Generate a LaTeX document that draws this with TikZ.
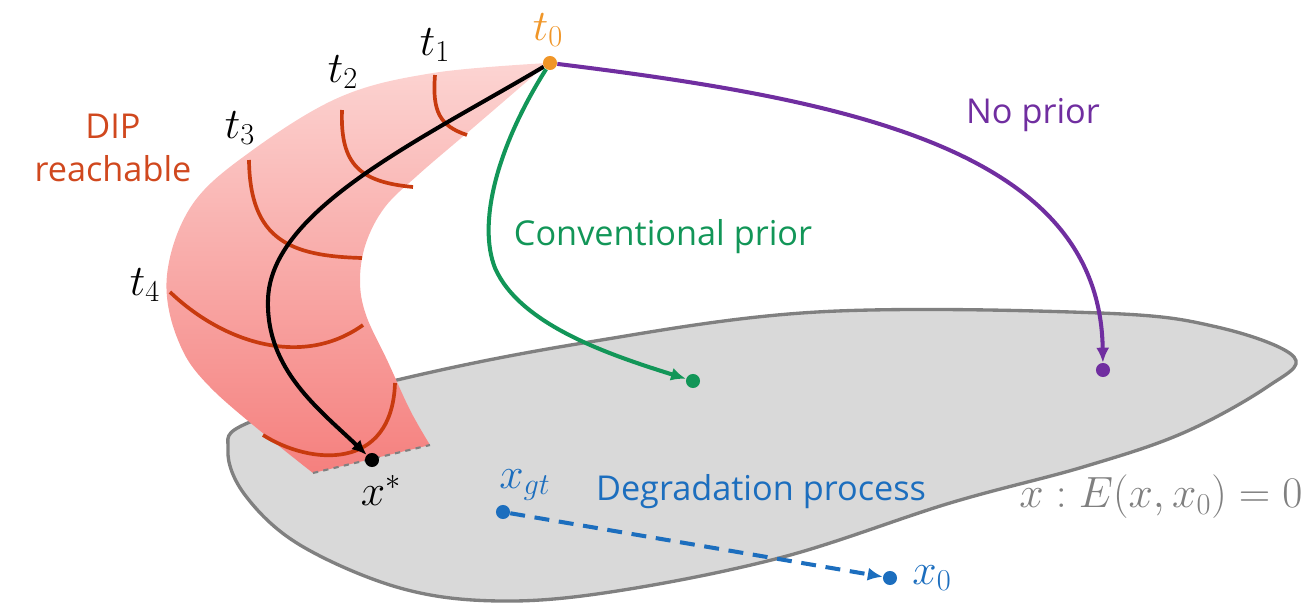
\documentclass[tikz,border=0pt]{standalone}
\usepackage{fontspec}
\setsansfont{Open Sans}
\usetikzlibrary{positioning,arrows.meta}
\definecolor{pinktop}{RGB}{252,212,210}
\definecolor{pinkbot}{RGB}{245,128,126}
\definecolor{arcred}{RGB}{200,58,14}
\definecolor{diptext}{RGB}{208,72,30}
\definecolor{startorange}{RGB}{240,150,40}
\definecolor{convgreen}{RGB}{18,150,88}
\definecolor{nopurple}{RGB}{112,46,160}
\definecolor{degblue}{RGB}{28,110,190}
\definecolor{setfill}{RGB}{217,217,217}
\definecolor{setline}{RGB}{128,128,128}
\tikzset{
  flowarrow/.style={-{Latex[length=8.5pt,width=7.5pt]}, line width=2.3pt},
  pointdot/.style={circle, fill, inner sep=0pt, minimum size=8pt},
  tarc/.style={draw=arcred, line width=2.1pt},
  mathlabel/.style={font=\fontsize{24}{28}\selectfont, inner sep=1pt},
  sanslabel/.style={font=\sffamily\fontsize{19.5}{24}\selectfont, align=center, inner sep=1pt}
}

\begin{document}
\begin{tikzpicture}[x=0.02cm, y=-0.02cm, >=Latex]
      \useasboundingbox (0,0) rectangle (1301,606);
      % constraint set
      \draw[fill=setfill, draw=setline, line width=1.9pt] plot[smooth cycle, tension=0.6] coordinates
        {(250,422) (397,380) (583,343) (817,312) (1100,313) (1217,327) (1294,357) (1267,387)
         (1183,433) (1083,467) (950,503) (783,557) (617,591) (500,601) (400,588) (300,545) (245,495) (228,450)};
      % DIP reachable region
      \shade[top color=pinktop, bottom color=pinkbot]
        plot[smooth, tension=0.6] coordinates {(548,63) (433,73) (340,97) (250,152) (192,205) (167,275) (178,340) (215,392) (313,473)}
        -- (430,445)
        -- plot[smooth, tension=0.6] coordinates {(430,445) (410,410) (388,362) (366,315) (360,280) (366,243) (385,207) (418,175) (467,133) (517,90) (548,63)}
        -- cycle;
      \draw[setline, dashed, line width=1.2pt] (313,473) -- (430,445);
      % time slices
      \draw[tarc] (435,75) .. controls (432,112) and (440,126) .. (467,135);
      \draw[tarc] (342,110) .. controls (340,165) and (360,182) .. (413,187);
      \draw[tarc] (249,160) .. controls (250,240) and (290,256) .. (362,258);
      \draw[tarc] (170,292) .. controls (220,340) and (300,370) .. (363,325);
      \draw[tarc] (263,435) .. controls (310,465) and (392,472) .. (395,383);
      % points
      \node[pointdot, fill=startorange] (t0) at (550,63) {};
      \node[pointdot, fill=black] (xs) at (372,460) {};
      \node[pointdot, fill=convgreen] (gdot) at (693,381) {};
      \node[pointdot, fill=nopurple] (pdot) at (1103,370) {};
      \node[pointdot, fill=degblue] (xgt) at (503,512) {};
      \node[pointdot, fill=degblue] (xzero) at (890,578) {};
      % paths
      \draw[flowarrow, black] (t0) .. controls (420,140) and (270,210) .. (268,300)
        .. controls (266,370) and (320,410) .. (xs);
      \draw[flowarrow, convgreen] (t0) .. controls (495,150) and (478,225) .. (495,268)
        .. controls (520,325) and (610,355) .. (gdot);
      \draw[flowarrow, nopurple] (t0) .. controls (850,100) and (1100,150) .. (pdot);
      \draw[flowarrow, degblue, dash pattern=on 8.5pt off 5.5pt] (xgt) -- (xzero);
      % labels
      \node[mathlabel, text=startorange] (t0lab) at (548,30) {$t_0$};
      \node[mathlabel] (t1lab) at (435,45) {$t_1$};
      \node[mathlabel] (t2lab) at (343,72) {$t_2$};
      \node[mathlabel] (t3lab) at (240,128) {$t_3$};
      \node[mathlabel] (t4lab) at (145,285) {$t_4$};
      \node[mathlabel] (xslab) at (381,490) {$x^*$};
      \node[mathlabel, text=degblue] (xgtlab) at (525,485) {$x_{gt}$};
      \node[mathlabel, text=degblue] (xzerolab) at (932,578) {$x_0$};
      \node[mathlabel, text=setline] (setlab) at (1161,497) {$x: E(x,x_0)=0$};
      \node[sanslabel, text=diptext] (diplab) at (113,148) {DIP\\reachable};
      \node[sanslabel, text=convgreen] (convlab) at (663,237) {Conventional prior};
      \node[sanslabel, text=nopurple] (nolab) at (1033,115) {No prior};
      \node[sanslabel, text=degblue] (deglab) at (761,492) {Degradation process};
\end{tikzpicture}
\end{document}
